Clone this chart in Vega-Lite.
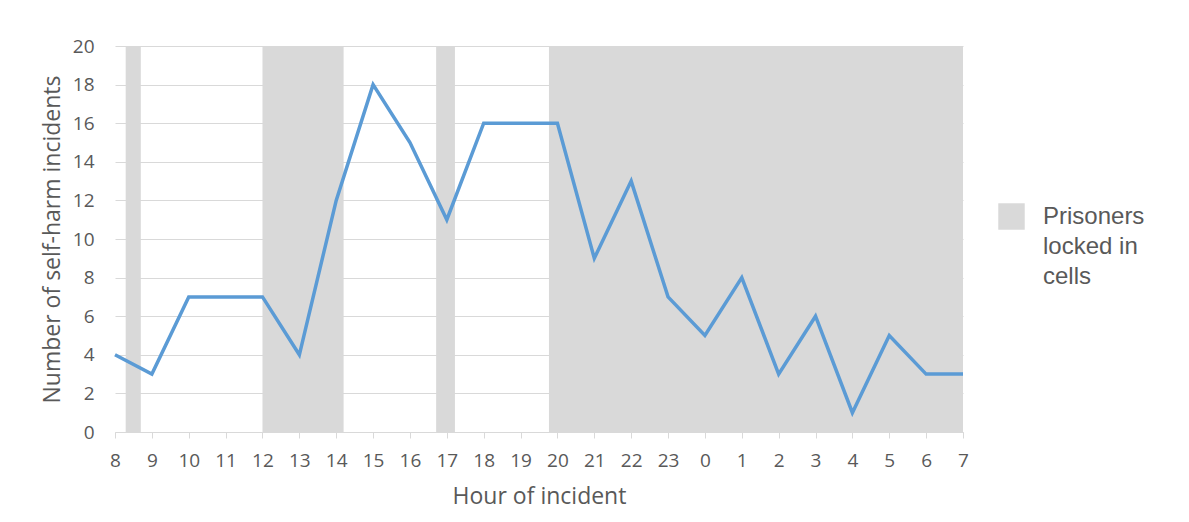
{
  "$schema": "https://vega.github.io/schema/vega-lite/v6.json",
  "width": 848,
  "height": 386,
  "autosize": "none",
  "padding": {"left": 115, "top": 46, "right": 226, "bottom": 90},
  "background": "white",
  "config": {
    "view": {"stroke": null},
    "font": "Open Sans",
    "style": {"guide-label": {"lineHeight": 30}},
    "axis": {"labelColor": "#595959", "titleColor": "#595959", "labelFont": "Open Sans", "titleFont": "Open Sans", "labelFontSize": 19, "titleFontSize": 23, "titleFontWeight": "normal"}
  },
  "datasets": {
    "incidents": [
      {"hour": 8, "hour_seq": 8, "count": 4},
      {"hour": 9, "hour_seq": 9, "count": 3},
      {"hour": 10, "hour_seq": 10, "count": 7},
      {"hour": 11, "hour_seq": 11, "count": 7},
      {"hour": 12, "hour_seq": 12, "count": 7},
      {"hour": 13, "hour_seq": 13, "count": 4},
      {"hour": 14, "hour_seq": 14, "count": 12},
      {"hour": 15, "hour_seq": 15, "count": 18},
      {"hour": 16, "hour_seq": 16, "count": 15},
      {"hour": 17, "hour_seq": 17, "count": 11},
      {"hour": 18, "hour_seq": 18, "count": 16},
      {"hour": 19, "hour_seq": 19, "count": 16},
      {"hour": 20, "hour_seq": 20, "count": 16},
      {"hour": 21, "hour_seq": 21, "count": 9},
      {"hour": 22, "hour_seq": 22, "count": 13},
      {"hour": 23, "hour_seq": 23, "count": 7},
      {"hour": 0, "hour_seq": 24, "count": 5},
      {"hour": 1, "hour_seq": 25, "count": 8},
      {"hour": 2, "hour_seq": 26, "count": 3},
      {"hour": 3, "hour_seq": 27, "count": 6},
      {"hour": 4, "hour_seq": 28, "count": 1},
      {"hour": 5, "hour_seq": 29, "count": 5},
      {"hour": 6, "hour_seq": 30, "count": 3},
      {"hour": 7, "hour_seq": 31, "count": 3}
    ],
    "locked": [
      {"start": 8.29, "end": 8.7, "status": "Prisoners locked in cells"},
      {"start": 12.0, "end": 14.2, "status": "Prisoners locked in cells"},
      {"start": 16.71, "end": 17.22, "status": "Prisoners locked in cells"},
      {"start": 19.77, "end": 31, "status": "Prisoners locked in cells"}
    ]
  },
  "layer": [
    {
      "data": {"name": "locked"},
      "mark": {"type": "rect", "opacity": 1},
      "encoding": {
        "x": {
          "field": "start", "type": "quantitative",
          "scale": {"domain": [8, 31], "nice": false, "zero": false},
          "axis": {
            "title": "Hour of incident",
            "values": [8,9,10,11,12,13,14,15,16,17,18,19,20,21,22,23,24,25,26,27,28,29,30,31],
            "tickCount": 24,
            "labelExpr": "datum.value % 24",
            "grid": false,
            "domainColor": "#d9d9d9",
            "tickColor": "#d9d9d9",
            "tickSize": 6,
            "labelPadding": 13,
            "labelFlush": false,
            "labelOverlap": false,
            "titlePadding": 15
          }
        },
        "x2": {"field": "end"},
        "color": {
          "field": "status", "type": "nominal",
          "scale": {"domain": ["Prisoners locked in cells"], "range": ["#d9d9d9"]},
          "legend": {
            "title": null,
            "orient": "none",
            "legendX": 883,
            "legendY": 157,
            "symbolType": "square",
            "symbolSize": 700,
            "symbolStrokeWidth": 0,
            "symbolOpacity": 1,
            "labelFont": "Liberation Sans",
            "labelFontSize": 24,
            "labelColor": "#595959",
            "labelOffset": 18,
            "labelBaseline": "middle",
            "labelLimit": 200,
            "labelExpr": "['Prisoners', 'locked in', 'cells']"
          }
        }
      }
    },
    {
      "data": {"name": "incidents"},
      "mark": {"type": "line", "color": "#5b9bd5", "strokeWidth": 3.5},
      "encoding": {
        "x": {
          "field": "hour_seq", "type": "quantitative",
          "scale": {"domain": [8, 31], "nice": false, "zero": false},
          "axis": {
            "title": "Hour of incident",
            "values": [8,9,10,11,12,13,14,15,16,17,18,19,20,21,22,23,24,25,26,27,28,29,30,31],
            "tickCount": 24,
            "labelExpr": "datum.value % 24",
            "grid": false,
            "domainColor": "#d9d9d9",
            "tickColor": "#d9d9d9",
            "tickSize": 6,
            "labelPadding": 13,
            "labelFlush": false,
            "labelOverlap": false,
            "titlePadding": 15
          }
        },
        "y": {
          "field": "count", "type": "quantitative",
          "scale": {"domain": [0, 20]},
          "axis": {
            "title": "Number  of self-harm incidents",
            "values": [0,2,4,6,8,10,12,14,16,18,20],
            "gridColor": "#d9d9d9",
            "domain": false,
            "ticks": false,
            "labelPadding": 21,
            "titlePadding": 8
          }
        }
      }
    }
  ]
}
